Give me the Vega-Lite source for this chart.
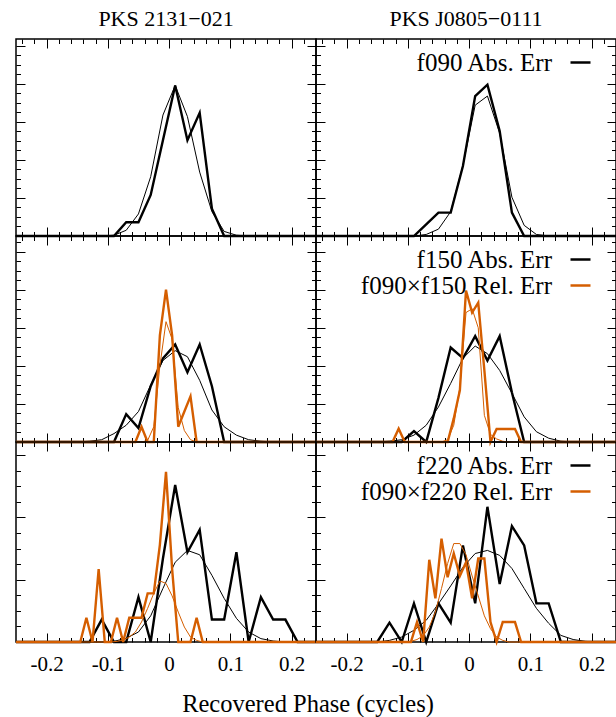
{
"$schema":"https://vega.github.io/schema/vega-lite/v6.json",
"padding":{"left":10,"top":6,"right":1,"bottom":4},
"config":{"view":{"stroke":"black","strokeWidth":1.5},"concat":{"spacing":0},
"axis":{"domain":false,"grid":false,"tickColor":"black","tickWidth":1,"minExtent":0,"labelFont":"Liberation Serif","labelFontSize":21,"labelColor":"black"},
"legend":{"orient":"none","legendX":252,"legendY":11,"title":null,"labelFont":"Liberation Serif","labelFontSize":25,"labelColor":"black","labelLimit":400,"symbolType":"stroke","symbolSize":400,"symbolStrokeWidth":2.5,"labelAlign":"right","labelOffset":-41,"padding":0,"rowPadding":0},
"title":{"font":"Liberation Serif","fontSize":22,"fontWeight":"normal","color":"black"},
"line":{"strokeJoin":"miter"}},
"title":{"text":"Recovered Phase (cycles)","orient":"bottom","anchor":"middle","offset":18,"dx":-8,"fontSize":24.5},
"datasets":{"d":[
{"p":"a","t":"abs","k":"h","s":"f090 Abs. Err","x":-0.25,"y":0},{"p":"a","t":"abs","k":"h","s":"f090 Abs. Err","x":-0.09,"y":0},{"p":"a","t":"abs","k":"h","s":"f090 Abs. Err","x":-0.07,"y":1.8},{"p":"a","t":"abs","k":"h","s":"f090 Abs. Err","x":-0.05,"y":1.8},{"p":"a","t":"abs","k":"h","s":"f090 Abs. Err","x":-0.03,"y":5.4},{"p":"a","t":"abs","k":"h","s":"f090 Abs. Err","x":-0.01,"y":12.6},{"p":"a","t":"abs","k":"h","s":"f090 Abs. Err","x":0.01,"y":19.8},{"p":"a","t":"abs","k":"h","s":"f090 Abs. Err","x":0.03,"y":12.6},{"p":"a","t":"abs","k":"h","s":"f090 Abs. Err","x":0.05,"y":16.2},{"p":"a","t":"abs","k":"h","s":"f090 Abs. Err","x":0.07,"y":3.6},{"p":"a","t":"abs","k":"h","s":"f090 Abs. Err","x":0.09,"y":0},{"p":"a","t":"abs","k":"h","s":"f090 Abs. Err","x":0.24,"y":0},
{"p":"a","t":"abs","k":"f","s":"f090 Abs. Err","x":-0.25,"y":0},{"p":"a","t":"abs","k":"f","s":"f090 Abs. Err","x":-0.11,"y":0},{"p":"a","t":"abs","k":"f","s":"f090 Abs. Err","x":-0.09,"y":0.1},{"p":"a","t":"abs","k":"f","s":"f090 Abs. Err","x":-0.07,"y":0.75},{"p":"a","t":"abs","k":"f","s":"f090 Abs. Err","x":-0.05,"y":2.9},{"p":"a","t":"abs","k":"f","s":"f090 Abs. Err","x":-0.03,"y":7.8},{"p":"a","t":"abs","k":"f","s":"f090 Abs. Err","x":-0.01,"y":15.9},{"p":"a","t":"abs","k":"f","s":"f090 Abs. Err","x":0.01,"y":19.8},{"p":"a","t":"abs","k":"f","s":"f090 Abs. Err","x":0.03,"y":15.7},{"p":"a","t":"abs","k":"f","s":"f090 Abs. Err","x":0.05,"y":8.4},{"p":"a","t":"abs","k":"f","s":"f090 Abs. Err","x":0.07,"y":3.2},{"p":"a","t":"abs","k":"f","s":"f090 Abs. Err","x":0.09,"y":0.6},{"p":"a","t":"abs","k":"f","s":"f090 Abs. Err","x":0.11,"y":0.1},{"p":"a","t":"abs","k":"f","s":"f090 Abs. Err","x":0.13,"y":0},{"p":"a","t":"abs","k":"f","s":"f090 Abs. Err","x":0.24,"y":0},
{"p":"b","t":"abs","k":"h","s":"f090 Abs. Err","x":-0.25,"y":0},{"p":"b","t":"abs","k":"h","s":"f090 Abs. Err","x":-0.09,"y":0},{"p":"b","t":"abs","k":"h","s":"f090 Abs. Err","x":-0.07,"y":1.53},{"p":"b","t":"abs","k":"h","s":"f090 Abs. Err","x":-0.05,"y":3.07},{"p":"b","t":"abs","k":"h","s":"f090 Abs. Err","x":-0.03,"y":3.07},{"p":"b","t":"abs","k":"h","s":"f090 Abs. Err","x":-0.01,"y":9.2},{"p":"b","t":"abs","k":"h","s":"f090 Abs. Err","x":0.01,"y":18.4},{"p":"b","t":"abs","k":"h","s":"f090 Abs. Err","x":0.03,"y":19.9},{"p":"b","t":"abs","k":"h","s":"f090 Abs. Err","x":0.05,"y":13.8},{"p":"b","t":"abs","k":"h","s":"f090 Abs. Err","x":0.07,"y":3.07},{"p":"b","t":"abs","k":"h","s":"f090 Abs. Err","x":0.09,"y":0},{"p":"b","t":"abs","k":"h","s":"f090 Abs. Err","x":0.24,"y":0},
{"p":"b","t":"abs","k":"f","s":"f090 Abs. Err","x":-0.25,"y":0},{"p":"b","t":"abs","k":"f","s":"f090 Abs. Err","x":-0.09,"y":0},{"p":"b","t":"abs","k":"f","s":"f090 Abs. Err","x":-0.07,"y":0.2},{"p":"b","t":"abs","k":"f","s":"f090 Abs. Err","x":-0.05,"y":0.9},{"p":"b","t":"abs","k":"f","s":"f090 Abs. Err","x":-0.03,"y":3.2},{"p":"b","t":"abs","k":"f","s":"f090 Abs. Err","x":-0.01,"y":9.3},{"p":"b","t":"abs","k":"f","s":"f090 Abs. Err","x":0.01,"y":17.2},{"p":"b","t":"abs","k":"f","s":"f090 Abs. Err","x":0.03,"y":18.4},{"p":"b","t":"abs","k":"f","s":"f090 Abs. Err","x":0.05,"y":13.5},{"p":"b","t":"abs","k":"f","s":"f090 Abs. Err","x":0.07,"y":5.1},{"p":"b","t":"abs","k":"f","s":"f090 Abs. Err","x":0.09,"y":1.4},{"p":"b","t":"abs","k":"f","s":"f090 Abs. Err","x":0.11,"y":0.2},{"p":"b","t":"abs","k":"f","s":"f090 Abs. Err","x":0.13,"y":0},{"p":"b","t":"abs","k":"f","s":"f090 Abs. Err","x":0.24,"y":0},
{"p":"c","t":"abs","k":"h","s":"f150 Abs. Err","x":-0.25,"y":0},{"p":"c","t":"abs","k":"h","s":"f150 Abs. Err","x":-0.09,"y":0},{"p":"c","t":"abs","k":"h","s":"f150 Abs. Err","x":-0.07,"y":3.66},{"p":"c","t":"abs","k":"h","s":"f150 Abs. Err","x":-0.05,"y":1.83},{"p":"c","t":"abs","k":"h","s":"f150 Abs. Err","x":-0.03,"y":7.32},{"p":"c","t":"abs","k":"h","s":"f150 Abs. Err","x":-0.01,"y":10.98},{"p":"c","t":"abs","k":"h","s":"f150 Abs. Err","x":0.01,"y":12.81},{"p":"c","t":"abs","k":"h","s":"f150 Abs. Err","x":0.03,"y":9.15},{"p":"c","t":"abs","k":"h","s":"f150 Abs. Err","x":0.05,"y":12.81},{"p":"c","t":"abs","k":"h","s":"f150 Abs. Err","x":0.07,"y":7.32},{"p":"c","t":"abs","k":"h","s":"f150 Abs. Err","x":0.09,"y":0},{"p":"c","t":"abs","k":"h","s":"f150 Abs. Err","x":0.24,"y":0},
{"p":"c","t":"abs","k":"f","s":"f150 Abs. Err","x":-0.25,"y":0},{"p":"c","t":"abs","k":"f","s":"f150 Abs. Err","x":-0.15,"y":0},{"p":"c","t":"abs","k":"f","s":"f150 Abs. Err","x":-0.13,"y":0.1},{"p":"c","t":"abs","k":"f","s":"f150 Abs. Err","x":-0.11,"y":0.3},{"p":"c","t":"abs","k":"f","s":"f150 Abs. Err","x":-0.09,"y":1.1},{"p":"c","t":"abs","k":"f","s":"f150 Abs. Err","x":-0.07,"y":2.2},{"p":"c","t":"abs","k":"f","s":"f150 Abs. Err","x":-0.05,"y":4.0},{"p":"c","t":"abs","k":"f","s":"f150 Abs. Err","x":-0.03,"y":7.5},{"p":"c","t":"abs","k":"f","s":"f150 Abs. Err","x":-0.01,"y":10.7},{"p":"c","t":"abs","k":"f","s":"f150 Abs. Err","x":0.01,"y":12.0},{"p":"c","t":"abs","k":"f","s":"f150 Abs. Err","x":0.03,"y":11.2},{"p":"c","t":"abs","k":"f","s":"f150 Abs. Err","x":0.05,"y":8.1},{"p":"c","t":"abs","k":"f","s":"f150 Abs. Err","x":0.07,"y":4.2},{"p":"c","t":"abs","k":"f","s":"f150 Abs. Err","x":0.09,"y":2.0},{"p":"c","t":"abs","k":"f","s":"f150 Abs. Err","x":0.11,"y":0.9},{"p":"c","t":"abs","k":"f","s":"f150 Abs. Err","x":0.13,"y":0.3},{"p":"c","t":"abs","k":"f","s":"f150 Abs. Err","x":0.15,"y":0.1},{"p":"c","t":"abs","k":"f","s":"f150 Abs. Err","x":0.17,"y":0},{"p":"c","t":"abs","k":"f","s":"f150 Abs. Err","x":0.24,"y":0},
{"p":"c","t":"rel","k":"h","s":"f090×f150 Rel. Err","x":-0.25,"y":0},{"p":"c","t":"rel","k":"h","s":"f090×f150 Rel. Err","x":-0.055,"y":0},{"p":"c","t":"rel","k":"h","s":"f090×f150 Rel. Err","x":-0.045,"y":2.0},{"p":"c","t":"rel","k":"h","s":"f090×f150 Rel. Err","x":-0.035,"y":0},{"p":"c","t":"rel","k":"h","s":"f090×f150 Rel. Err","x":-0.025,"y":0},{"p":"c","t":"rel","k":"h","s":"f090×f150 Rel. Err","x":-0.015,"y":14},{"p":"c","t":"rel","k":"h","s":"f090×f150 Rel. Err","x":-0.005,"y":20.0},{"p":"c","t":"rel","k":"h","s":"f090×f150 Rel. Err","x":0.005,"y":14},{"p":"c","t":"rel","k":"h","s":"f090×f150 Rel. Err","x":0.015,"y":2.0},{"p":"c","t":"rel","k":"h","s":"f090×f150 Rel. Err","x":0.025,"y":4.0},{"p":"c","t":"rel","k":"h","s":"f090×f150 Rel. Err","x":0.035,"y":6.0},{"p":"c","t":"rel","k":"h","s":"f090×f150 Rel. Err","x":0.045,"y":0},{"p":"c","t":"rel","k":"h","s":"f090×f150 Rel. Err","x":0.24,"y":0},
{"p":"c","t":"rel","k":"f","s":"f090×f150 Rel. Err","x":-0.25,"y":0},{"p":"c","t":"rel","k":"f","s":"f090×f150 Rel. Err","x":-0.045,"y":0},{"p":"c","t":"rel","k":"f","s":"f090×f150 Rel. Err","x":-0.035,"y":0.2},{"p":"c","t":"rel","k":"f","s":"f090×f150 Rel. Err","x":-0.025,"y":2.0},{"p":"c","t":"rel","k":"f","s":"f090×f150 Rel. Err","x":-0.015,"y":10},{"p":"c","t":"rel","k":"f","s":"f090×f150 Rel. Err","x":-0.005,"y":15.8},{"p":"c","t":"rel","k":"f","s":"f090×f150 Rel. Err","x":0.005,"y":13.5},{"p":"c","t":"rel","k":"f","s":"f090×f150 Rel. Err","x":0.015,"y":4.5},{"p":"c","t":"rel","k":"f","s":"f090×f150 Rel. Err","x":0.025,"y":1.5},{"p":"c","t":"rel","k":"f","s":"f090×f150 Rel. Err","x":0.035,"y":0.3},{"p":"c","t":"rel","k":"f","s":"f090×f150 Rel. Err","x":0.045,"y":0},{"p":"c","t":"rel","k":"f","s":"f090×f150 Rel. Err","x":0.24,"y":0},
{"p":"d","t":"abs","k":"h","s":"f150 Abs. Err","x":-0.25,"y":0},{"p":"d","t":"abs","k":"h","s":"f150 Abs. Err","x":-0.11,"y":0},{"p":"d","t":"abs","k":"h","s":"f150 Abs. Err","x":-0.09,"y":1.44},{"p":"d","t":"abs","k":"h","s":"f150 Abs. Err","x":-0.07,"y":0},{"p":"d","t":"abs","k":"h","s":"f150 Abs. Err","x":-0.05,"y":5.8},{"p":"d","t":"abs","k":"h","s":"f150 Abs. Err","x":-0.03,"y":12.4},{"p":"d","t":"abs","k":"h","s":"f150 Abs. Err","x":-0.01,"y":11.0},{"p":"d","t":"abs","k":"h","s":"f150 Abs. Err","x":0.01,"y":13.9},{"p":"d","t":"abs","k":"h","s":"f150 Abs. Err","x":0.03,"y":10.7},{"p":"d","t":"abs","k":"h","s":"f150 Abs. Err","x":0.05,"y":13.9},{"p":"d","t":"abs","k":"h","s":"f150 Abs. Err","x":0.07,"y":6.5},{"p":"d","t":"abs","k":"h","s":"f150 Abs. Err","x":0.09,"y":0},{"p":"d","t":"abs","k":"h","s":"f150 Abs. Err","x":0.24,"y":0},
{"p":"d","t":"abs","k":"f","s":"f150 Abs. Err","x":-0.25,"y":0},{"p":"d","t":"abs","k":"f","s":"f150 Abs. Err","x":-0.15,"y":0},{"p":"d","t":"abs","k":"f","s":"f150 Abs. Err","x":-0.13,"y":0.1},{"p":"d","t":"abs","k":"f","s":"f150 Abs. Err","x":-0.11,"y":0.3},{"p":"d","t":"abs","k":"f","s":"f150 Abs. Err","x":-0.09,"y":0.9},{"p":"d","t":"abs","k":"f","s":"f150 Abs. Err","x":-0.07,"y":2.2},{"p":"d","t":"abs","k":"f","s":"f150 Abs. Err","x":-0.05,"y":4.6},{"p":"d","t":"abs","k":"f","s":"f150 Abs. Err","x":-0.03,"y":7.7},{"p":"d","t":"abs","k":"f","s":"f150 Abs. Err","x":-0.01,"y":11.0},{"p":"d","t":"abs","k":"f","s":"f150 Abs. Err","x":0.01,"y":12.6},{"p":"d","t":"abs","k":"f","s":"f150 Abs. Err","x":0.03,"y":11.6},{"p":"d","t":"abs","k":"f","s":"f150 Abs. Err","x":0.05,"y":9.4},{"p":"d","t":"abs","k":"f","s":"f150 Abs. Err","x":0.07,"y":6.4},{"p":"d","t":"abs","k":"f","s":"f150 Abs. Err","x":0.09,"y":3.3},{"p":"d","t":"abs","k":"f","s":"f150 Abs. Err","x":0.11,"y":1.35},{"p":"d","t":"abs","k":"f","s":"f150 Abs. Err","x":0.13,"y":0.5},{"p":"d","t":"abs","k":"f","s":"f150 Abs. Err","x":0.15,"y":0.1},{"p":"d","t":"abs","k":"f","s":"f150 Abs. Err","x":0.17,"y":0},{"p":"d","t":"abs","k":"f","s":"f150 Abs. Err","x":0.24,"y":0},
{"p":"d","t":"rel","k":"h","s":"f090×f150 Rel. Err","x":-0.25,"y":0},{"p":"d","t":"rel","k":"h","s":"f090×f150 Rel. Err","x":-0.125,"y":0},{"p":"d","t":"rel","k":"h","s":"f090×f150 Rel. Err","x":-0.115,"y":1.75},{"p":"d","t":"rel","k":"h","s":"f090×f150 Rel. Err","x":-0.105,"y":0},{"p":"d","t":"rel","k":"h","s":"f090×f150 Rel. Err","x":-0.035,"y":0},{"p":"d","t":"rel","k":"h","s":"f090×f150 Rel. Err","x":-0.025,"y":3.1},{"p":"d","t":"rel","k":"h","s":"f090×f150 Rel. Err","x":-0.015,"y":6.8},{"p":"d","t":"rel","k":"h","s":"f090×f150 Rel. Err","x":-0.005,"y":19.9},{"p":"d","t":"rel","k":"h","s":"f090×f150 Rel. Err","x":0.005,"y":17.0},{"p":"d","t":"rel","k":"h","s":"f090×f150 Rel. Err","x":0.015,"y":18.3},{"p":"d","t":"rel","k":"h","s":"f090×f150 Rel. Err","x":0.025,"y":9.4},{"p":"d","t":"rel","k":"h","s":"f090×f150 Rel. Err","x":0.035,"y":0},{"p":"d","t":"rel","k":"h","s":"f090×f150 Rel. Err","x":0.045,"y":1.7},{"p":"d","t":"rel","k":"h","s":"f090×f150 Rel. Err","x":0.055,"y":1.7},{"p":"d","t":"rel","k":"h","s":"f090×f150 Rel. Err","x":0.065,"y":1.7},{"p":"d","t":"rel","k":"h","s":"f090×f150 Rel. Err","x":0.075,"y":1.7},{"p":"d","t":"rel","k":"h","s":"f090×f150 Rel. Err","x":0.085,"y":0},{"p":"d","t":"rel","k":"h","s":"f090×f150 Rel. Err","x":0.24,"y":0},
{"p":"d","t":"rel","k":"f","s":"f090×f150 Rel. Err","x":-0.25,"y":0},{"p":"d","t":"rel","k":"f","s":"f090×f150 Rel. Err","x":-0.045,"y":0},{"p":"d","t":"rel","k":"f","s":"f090×f150 Rel. Err","x":-0.035,"y":0.3},{"p":"d","t":"rel","k":"f","s":"f090×f150 Rel. Err","x":-0.025,"y":2.2},{"p":"d","t":"rel","k":"f","s":"f090×f150 Rel. Err","x":-0.015,"y":7.2},{"p":"d","t":"rel","k":"f","s":"f090×f150 Rel. Err","x":-0.005,"y":17.0},{"p":"d","t":"rel","k":"f","s":"f090×f150 Rel. Err","x":0.005,"y":17.5},{"p":"d","t":"rel","k":"f","s":"f090×f150 Rel. Err","x":0.015,"y":15.0},{"p":"d","t":"rel","k":"f","s":"f090×f150 Rel. Err","x":0.025,"y":3.5},{"p":"d","t":"rel","k":"f","s":"f090×f150 Rel. Err","x":0.035,"y":1.0},{"p":"d","t":"rel","k":"f","s":"f090×f150 Rel. Err","x":0.045,"y":0.4},{"p":"d","t":"rel","k":"f","s":"f090×f150 Rel. Err","x":0.055,"y":0.1},{"p":"d","t":"rel","k":"f","s":"f090×f150 Rel. Err","x":0.065,"y":0},{"p":"d","t":"rel","k":"f","s":"f090×f150 Rel. Err","x":0.24,"y":0},
{"p":"e","t":"abs","k":"h","s":"f220 Abs. Err","x":-0.25,"y":0},{"p":"e","t":"abs","k":"h","s":"f220 Abs. Err","x":-0.13,"y":0},{"p":"e","t":"abs","k":"h","s":"f220 Abs. Err","x":-0.11,"y":1.8},{"p":"e","t":"abs","k":"h","s":"f220 Abs. Err","x":-0.09,"y":0},{"p":"e","t":"abs","k":"h","s":"f220 Abs. Err","x":-0.07,"y":0},{"p":"e","t":"abs","k":"h","s":"f220 Abs. Err","x":-0.05,"y":3.6},{"p":"e","t":"abs","k":"h","s":"f220 Abs. Err","x":-0.03,"y":0},{"p":"e","t":"abs","k":"h","s":"f220 Abs. Err","x":-0.01,"y":6.7},{"p":"e","t":"abs","k":"h","s":"f220 Abs. Err","x":0.01,"y":12.6},{"p":"e","t":"abs","k":"h","s":"f220 Abs. Err","x":0.03,"y":7.2},{"p":"e","t":"abs","k":"h","s":"f220 Abs. Err","x":0.05,"y":9.0},{"p":"e","t":"abs","k":"h","s":"f220 Abs. Err","x":0.07,"y":1.8},{"p":"e","t":"abs","k":"h","s":"f220 Abs. Err","x":0.09,"y":1.8},{"p":"e","t":"abs","k":"h","s":"f220 Abs. Err","x":0.11,"y":7.2},{"p":"e","t":"abs","k":"h","s":"f220 Abs. Err","x":0.13,"y":0},{"p":"e","t":"abs","k":"h","s":"f220 Abs. Err","x":0.15,"y":3.6},{"p":"e","t":"abs","k":"h","s":"f220 Abs. Err","x":0.17,"y":1.8},{"p":"e","t":"abs","k":"h","s":"f220 Abs. Err","x":0.19,"y":1.8},{"p":"e","t":"abs","k":"h","s":"f220 Abs. Err","x":0.21,"y":0},{"p":"e","t":"abs","k":"h","s":"f220 Abs. Err","x":0.24,"y":0},
{"p":"e","t":"abs","k":"f","s":"f220 Abs. Err","x":-0.25,"y":0},{"p":"e","t":"abs","k":"f","s":"f220 Abs. Err","x":-0.11,"y":0},{"p":"e","t":"abs","k":"f","s":"f220 Abs. Err","x":-0.09,"y":0.05},{"p":"e","t":"abs","k":"f","s":"f220 Abs. Err","x":-0.07,"y":0.3},{"p":"e","t":"abs","k":"f","s":"f220 Abs. Err","x":-0.05,"y":0.8},{"p":"e","t":"abs","k":"f","s":"f220 Abs. Err","x":-0.03,"y":2.1},{"p":"e","t":"abs","k":"f","s":"f220 Abs. Err","x":-0.01,"y":4.3},{"p":"e","t":"abs","k":"f","s":"f220 Abs. Err","x":0.01,"y":6.4},{"p":"e","t":"abs","k":"f","s":"f220 Abs. Err","x":0.03,"y":7.35},{"p":"e","t":"abs","k":"f","s":"f220 Abs. Err","x":0.05,"y":7.0},{"p":"e","t":"abs","k":"f","s":"f220 Abs. Err","x":0.07,"y":5.35},{"p":"e","t":"abs","k":"f","s":"f220 Abs. Err","x":0.09,"y":3.5},{"p":"e","t":"abs","k":"f","s":"f220 Abs. Err","x":0.11,"y":1.9},{"p":"e","t":"abs","k":"f","s":"f220 Abs. Err","x":0.13,"y":0.8},{"p":"e","t":"abs","k":"f","s":"f220 Abs. Err","x":0.15,"y":0.27},{"p":"e","t":"abs","k":"f","s":"f220 Abs. Err","x":0.17,"y":0.08},{"p":"e","t":"abs","k":"f","s":"f220 Abs. Err","x":0.19,"y":0},{"p":"e","t":"abs","k":"f","s":"f220 Abs. Err","x":0.24,"y":0},
{"p":"e","t":"rel","k":"h","s":"f090×f220 Rel. Err","x":-0.25,"y":0},{"p":"e","t":"rel","k":"h","s":"f090×f220 Rel. Err","x":-0.145,"y":0},{"p":"e","t":"rel","k":"h","s":"f090×f220 Rel. Err","x":-0.135,"y":1.95},{"p":"e","t":"rel","k":"h","s":"f090×f220 Rel. Err","x":-0.125,"y":0},{"p":"e","t":"rel","k":"h","s":"f090×f220 Rel. Err","x":-0.115,"y":5.85},{"p":"e","t":"rel","k":"h","s":"f090×f220 Rel. Err","x":-0.105,"y":0},{"p":"e","t":"rel","k":"h","s":"f090×f220 Rel. Err","x":-0.095,"y":0},{"p":"e","t":"rel","k":"h","s":"f090×f220 Rel. Err","x":-0.085,"y":1.95},{"p":"e","t":"rel","k":"h","s":"f090×f220 Rel. Err","x":-0.075,"y":0},{"p":"e","t":"rel","k":"h","s":"f090×f220 Rel. Err","x":-0.065,"y":1.95},{"p":"e","t":"rel","k":"h","s":"f090×f220 Rel. Err","x":-0.055,"y":1.95},{"p":"e","t":"rel","k":"h","s":"f090×f220 Rel. Err","x":-0.045,"y":1.95},{"p":"e","t":"rel","k":"h","s":"f090×f220 Rel. Err","x":-0.035,"y":3.9},{"p":"e","t":"rel","k":"h","s":"f090×f220 Rel. Err","x":-0.025,"y":3.9},{"p":"e","t":"rel","k":"h","s":"f090×f220 Rel. Err","x":-0.015,"y":7.8},{"p":"e","t":"rel","k":"h","s":"f090×f220 Rel. Err","x":-0.005,"y":13.65},{"p":"e","t":"rel","k":"h","s":"f090×f220 Rel. Err","x":0.005,"y":5.85},{"p":"e","t":"rel","k":"h","s":"f090×f220 Rel. Err","x":0.015,"y":0},{"p":"e","t":"rel","k":"h","s":"f090×f220 Rel. Err","x":0.035,"y":0},{"p":"e","t":"rel","k":"h","s":"f090×f220 Rel. Err","x":0.045,"y":1.95},{"p":"e","t":"rel","k":"h","s":"f090×f220 Rel. Err","x":0.055,"y":0},{"p":"e","t":"rel","k":"h","s":"f090×f220 Rel. Err","x":0.24,"y":0},
{"p":"e","t":"rel","k":"f","s":"f090×f220 Rel. Err","x":-0.25,"y":0},{"p":"e","t":"rel","k":"f","s":"f090×f220 Rel. Err","x":-0.095,"y":0},{"p":"e","t":"rel","k":"f","s":"f090×f220 Rel. Err","x":-0.085,"y":0.05},{"p":"e","t":"rel","k":"f","s":"f090×f220 Rel. Err","x":-0.075,"y":0.15},{"p":"e","t":"rel","k":"f","s":"f090×f220 Rel. Err","x":-0.065,"y":0.4},{"p":"e","t":"rel","k":"f","s":"f090×f220 Rel. Err","x":-0.055,"y":0.8},{"p":"e","t":"rel","k":"f","s":"f090×f220 Rel. Err","x":-0.045,"y":1.6},{"p":"e","t":"rel","k":"f","s":"f090×f220 Rel. Err","x":-0.035,"y":2.7},{"p":"e","t":"rel","k":"f","s":"f090×f220 Rel. Err","x":-0.025,"y":3.9},{"p":"e","t":"rel","k":"f","s":"f090×f220 Rel. Err","x":-0.015,"y":4.9},{"p":"e","t":"rel","k":"f","s":"f090×f220 Rel. Err","x":-0.005,"y":4.7},{"p":"e","t":"rel","k":"f","s":"f090×f220 Rel. Err","x":0.005,"y":3.7},{"p":"e","t":"rel","k":"f","s":"f090×f220 Rel. Err","x":0.015,"y":2.4},{"p":"e","t":"rel","k":"f","s":"f090×f220 Rel. Err","x":0.025,"y":1.2},{"p":"e","t":"rel","k":"f","s":"f090×f220 Rel. Err","x":0.035,"y":0.4},{"p":"e","t":"rel","k":"f","s":"f090×f220 Rel. Err","x":0.045,"y":0.13},{"p":"e","t":"rel","k":"f","s":"f090×f220 Rel. Err","x":0.055,"y":0},{"p":"e","t":"rel","k":"f","s":"f090×f220 Rel. Err","x":0.24,"y":0},
{"p":"f","t":"abs","k":"h","s":"f220 Abs. Err","x":-0.25,"y":0},{"p":"f","t":"abs","k":"h","s":"f220 Abs. Err","x":-0.15,"y":0},{"p":"f","t":"abs","k":"h","s":"f220 Abs. Err","x":-0.13,"y":1.55},{"p":"f","t":"abs","k":"h","s":"f220 Abs. Err","x":-0.11,"y":0},{"p":"f","t":"abs","k":"h","s":"f220 Abs. Err","x":-0.09,"y":3.1},{"p":"f","t":"abs","k":"h","s":"f220 Abs. Err","x":-0.07,"y":0},{"p":"f","t":"abs","k":"h","s":"f220 Abs. Err","x":-0.05,"y":3.1},{"p":"f","t":"abs","k":"h","s":"f220 Abs. Err","x":-0.03,"y":1.55},{"p":"f","t":"abs","k":"h","s":"f220 Abs. Err","x":-0.01,"y":7.75},{"p":"f","t":"abs","k":"h","s":"f220 Abs. Err","x":0.01,"y":3.1},{"p":"f","t":"abs","k":"h","s":"f220 Abs. Err","x":0.03,"y":10.85},{"p":"f","t":"abs","k":"h","s":"f220 Abs. Err","x":0.05,"y":4.65},{"p":"f","t":"abs","k":"h","s":"f220 Abs. Err","x":0.07,"y":9.3},{"p":"f","t":"abs","k":"h","s":"f220 Abs. Err","x":0.09,"y":7.75},{"p":"f","t":"abs","k":"h","s":"f220 Abs. Err","x":0.11,"y":3.1},{"p":"f","t":"abs","k":"h","s":"f220 Abs. Err","x":0.13,"y":3.1},{"p":"f","t":"abs","k":"h","s":"f220 Abs. Err","x":0.15,"y":0},{"p":"f","t":"abs","k":"h","s":"f220 Abs. Err","x":0.24,"y":0},
{"p":"f","t":"abs","k":"f","s":"f220 Abs. Err","x":-0.25,"y":0},{"p":"f","t":"abs","k":"f","s":"f220 Abs. Err","x":-0.15,"y":0},{"p":"f","t":"abs","k":"f","s":"f220 Abs. Err","x":-0.13,"y":0.13},{"p":"f","t":"abs","k":"f","s":"f220 Abs. Err","x":-0.11,"y":0.4},{"p":"f","t":"abs","k":"f","s":"f220 Abs. Err","x":-0.09,"y":0.94},{"p":"f","t":"abs","k":"f","s":"f220 Abs. Err","x":-0.07,"y":1.74},{"p":"f","t":"abs","k":"f","s":"f220 Abs. Err","x":-0.05,"y":3.07},{"p":"f","t":"abs","k":"f","s":"f220 Abs. Err","x":-0.03,"y":4.5},{"p":"f","t":"abs","k":"f","s":"f220 Abs. Err","x":-0.01,"y":6.0},{"p":"f","t":"abs","k":"f","s":"f220 Abs. Err","x":0.01,"y":7.1},{"p":"f","t":"abs","k":"f","s":"f220 Abs. Err","x":0.03,"y":7.35},{"p":"f","t":"abs","k":"f","s":"f220 Abs. Err","x":0.05,"y":6.95},{"p":"f","t":"abs","k":"f","s":"f220 Abs. Err","x":0.07,"y":5.9},{"p":"f","t":"abs","k":"f","s":"f220 Abs. Err","x":0.09,"y":4.3},{"p":"f","t":"abs","k":"f","s":"f220 Abs. Err","x":0.11,"y":2.7},{"p":"f","t":"abs","k":"f","s":"f220 Abs. Err","x":0.13,"y":1.5},{"p":"f","t":"abs","k":"f","s":"f220 Abs. Err","x":0.15,"y":0.53},{"p":"f","t":"abs","k":"f","s":"f220 Abs. Err","x":0.17,"y":0.2},{"p":"f","t":"abs","k":"f","s":"f220 Abs. Err","x":0.19,"y":0.05},{"p":"f","t":"abs","k":"f","s":"f220 Abs. Err","x":0.21,"y":0},{"p":"f","t":"abs","k":"f","s":"f220 Abs. Err","x":0.24,"y":0},
{"p":"f","t":"rel","k":"h","s":"f090×f220 Rel. Err","x":-0.25,"y":0},{"p":"f","t":"rel","k":"h","s":"f090×f220 Rel. Err","x":-0.095,"y":0},{"p":"f","t":"rel","k":"h","s":"f090×f220 Rel. Err","x":-0.085,"y":1.6},{"p":"f","t":"rel","k":"h","s":"f090×f220 Rel. Err","x":-0.075,"y":0},{"p":"f","t":"rel","k":"h","s":"f090×f220 Rel. Err","x":-0.065,"y":6.6},{"p":"f","t":"rel","k":"h","s":"f090×f220 Rel. Err","x":-0.055,"y":3.5},{"p":"f","t":"rel","k":"h","s":"f090×f220 Rel. Err","x":-0.045,"y":8.3},{"p":"f","t":"rel","k":"h","s":"f090×f220 Rel. Err","x":-0.035,"y":5.2},{"p":"f","t":"rel","k":"h","s":"f090×f220 Rel. Err","x":-0.025,"y":7.1},{"p":"f","t":"rel","k":"h","s":"f090×f220 Rel. Err","x":-0.015,"y":5.3},{"p":"f","t":"rel","k":"h","s":"f090×f220 Rel. Err","x":-0.005,"y":6.4},{"p":"f","t":"rel","k":"h","s":"f090×f220 Rel. Err","x":0.005,"y":3.5},{"p":"f","t":"rel","k":"h","s":"f090×f220 Rel. Err","x":0.015,"y":6.7},{"p":"f","t":"rel","k":"h","s":"f090×f220 Rel. Err","x":0.025,"y":6.7},{"p":"f","t":"rel","k":"h","s":"f090×f220 Rel. Err","x":0.035,"y":1.6},{"p":"f","t":"rel","k":"h","s":"f090×f220 Rel. Err","x":0.045,"y":0},{"p":"f","t":"rel","k":"h","s":"f090×f220 Rel. Err","x":0.055,"y":1.6},{"p":"f","t":"rel","k":"h","s":"f090×f220 Rel. Err","x":0.065,"y":1.6},{"p":"f","t":"rel","k":"h","s":"f090×f220 Rel. Err","x":0.075,"y":1.6},{"p":"f","t":"rel","k":"h","s":"f090×f220 Rel. Err","x":0.085,"y":0},{"p":"f","t":"rel","k":"h","s":"f090×f220 Rel. Err","x":0.24,"y":0},
{"p":"f","t":"rel","k":"f","s":"f090×f220 Rel. Err","x":-0.25,"y":0},{"p":"f","t":"rel","k":"f","s":"f090×f220 Rel. Err","x":-0.105,"y":0},{"p":"f","t":"rel","k":"f","s":"f090×f220 Rel. Err","x":-0.095,"y":0.05},{"p":"f","t":"rel","k":"f","s":"f090×f220 Rel. Err","x":-0.085,"y":0.2},{"p":"f","t":"rel","k":"f","s":"f090×f220 Rel. Err","x":-0.075,"y":0.5},{"p":"f","t":"rel","k":"f","s":"f090×f220 Rel. Err","x":-0.065,"y":1.2},{"p":"f","t":"rel","k":"f","s":"f090×f220 Rel. Err","x":-0.055,"y":2.4},{"p":"f","t":"rel","k":"f","s":"f090×f220 Rel. Err","x":-0.045,"y":4.3},{"p":"f","t":"rel","k":"f","s":"f090×f220 Rel. Err","x":-0.035,"y":6.3},{"p":"f","t":"rel","k":"f","s":"f090×f220 Rel. Err","x":-0.025,"y":7.9},{"p":"f","t":"rel","k":"f","s":"f090×f220 Rel. Err","x":-0.015,"y":7.9},{"p":"f","t":"rel","k":"f","s":"f090×f220 Rel. Err","x":-0.005,"y":7.0},{"p":"f","t":"rel","k":"f","s":"f090×f220 Rel. Err","x":0.005,"y":5.3},{"p":"f","t":"rel","k":"f","s":"f090×f220 Rel. Err","x":0.015,"y":3.7},{"p":"f","t":"rel","k":"f","s":"f090×f220 Rel. Err","x":0.025,"y":2.1},{"p":"f","t":"rel","k":"f","s":"f090×f220 Rel. Err","x":0.035,"y":1.07},{"p":"f","t":"rel","k":"f","s":"f090×f220 Rel. Err","x":0.045,"y":0.4},{"p":"f","t":"rel","k":"f","s":"f090×f220 Rel. Err","x":0.055,"y":0.13},{"p":"f","t":"rel","k":"f","s":"f090×f220 Rel. Err","x":0.065,"y":0},{"p":"f","t":"rel","k":"f","s":"f090×f220 Rel. Err","x":0.24,"y":0}
]},
"data":{"name":"d"},
"columns":2,"spacing":0,"bounds":"flush",
"resolve":{"scale":{"color":"independent"}},
"concat":[
{"width":300,"height":197,"title":{"text":"PKS 2131−021","offset":8},
"resolve":{"axis":{"x":"independent","y":"independent"}},
"layer":[
{"transform":[{"filter":"datum.p=='a' && datum.t=='abs' && datum.k=='h'"}],"mark":{"type":"line","strokeWidth":2.4},
"encoding":{"x":{"field":"x","type":"quantitative","scale":{"domain":[-0.25,0.24],"nice":false,"zero":false},"axis":{"orient":"bottom","values":[-0.2,-0.1,0,0.1,0.2],"tickSize":-9,"labels":false,"title":null}},
"y":{"field":"y","type":"quantitative","scale":{"domain":[0,25.9],"nice":false},"axis":{"orient":"left","values":[0,5,10,15,20,25],"tickSize":-9,"labels":false,"title":null}},
"color":{"field":"s","type":"nominal","scale":{"domain":["f090 Abs. Err"],"range":["black"]},"legend":null}}},
{"transform":[{"filter":"datum.p=='a' && datum.t=='abs' && datum.k=='f'"}],"mark":{"type":"line","strokeWidth":1},
"encoding":{"x":{"field":"x","type":"quantitative","axis":{"orient":"top","values":[-0.2,-0.1,0,0.1,0.2],"tickSize":-9,"labels":false,"title":null}},
"y":{"field":"y","type":"quantitative","axis":{"orient":"right","values":[0,5,10,15,20,25],"tickSize":-9,"labels":false,"title":null}},
"color":{"field":"s","type":"nominal","legend":null}}},
{"transform":[{"filter":"datum.p=='a' && datum.t=='rel' && datum.k=='h'"}],"mark":{"type":"line","strokeWidth":2.4},
"encoding":{"x":{"field":"x","type":"quantitative","axis":{"orient":"bottom","values":[-0.24,-0.22,-0.2,-0.18,-0.16,-0.14,-0.12,-0.1,-0.08,-0.06,-0.04,-0.02,0,0.02,0.04,0.06,0.08,0.1,0.12,0.14,0.16,0.18,0.2,0.22],"tickSize":-4.5,"labels":false,"title":null}},
"y":{"field":"y","type":"quantitative","axis":{"orient":"left","values":[1.25,2.5,3.75,6.25,7.5,8.75,11.25,12.5,13.75,16.25,17.5,18.75,21.25,22.5,23.75],"tickSize":-4.5,"labels":false,"title":null}},
"color":{"field":"s","type":"nominal","legend":null}}},
{"transform":[{"filter":"datum.p=='a' && datum.t=='rel' && datum.k=='f'"}],"mark":{"type":"line","strokeWidth":1},
"encoding":{"x":{"field":"x","type":"quantitative","axis":{"orient":"top","values":[-0.24,-0.22,-0.2,-0.18,-0.16,-0.14,-0.12,-0.1,-0.08,-0.06,-0.04,-0.02,0,0.02,0.04,0.06,0.08,0.1,0.12,0.14,0.16,0.18,0.2,0.22],"tickSize":-4.5,"labels":false,"title":null}},
"y":{"field":"y","type":"quantitative","axis":{"orient":"right","values":[1.25,2.5,3.75,6.25,7.5,8.75,11.25,12.5,13.75,16.25,17.5,18.75,21.25,22.5,23.75],"tickSize":-4.5,"labels":false,"title":null}},
"color":{"field":"s","type":"nominal","legend":null}}}
]},
{"width":300,"height":197,"title":{"text":"PKS J0805−0111","offset":8},
"resolve":{"axis":{"x":"independent","y":"independent"}},
"layer":[
{"transform":[{"filter":"datum.p=='b' && datum.t=='abs' && datum.k=='h'"}],"mark":{"type":"line","strokeWidth":2.4},
"encoding":{"x":{"field":"x","type":"quantitative","scale":{"domain":[-0.25,0.24],"nice":false,"zero":false},"axis":{"orient":"bottom","values":[-0.2,-0.1,0,0.1,0.2],"tickSize":-9,"labels":false,"title":null}},
"y":{"field":"y","type":"quantitative","scale":{"domain":[0,25.9],"nice":false},"axis":{"orient":"left","values":[0,5,10,15,20,25],"tickSize":-9,"labels":false,"title":null}},
"color":{"field":"s","type":"nominal","scale":{"domain":["f090 Abs. Err"],"range":["black"]}}}},
{"transform":[{"filter":"datum.p=='b' && datum.t=='abs' && datum.k=='f'"}],"mark":{"type":"line","strokeWidth":1},
"encoding":{"x":{"field":"x","type":"quantitative","axis":{"orient":"top","values":[-0.2,-0.1,0,0.1,0.2],"tickSize":-9,"labels":false,"title":null}},
"y":{"field":"y","type":"quantitative","axis":{"orient":"right","values":[0,5,10,15,20,25],"tickSize":-9,"labels":false,"title":null}},
"color":{"field":"s","type":"nominal"}}},
{"transform":[{"filter":"datum.p=='b' && datum.t=='rel' && datum.k=='h'"}],"mark":{"type":"line","strokeWidth":2.4},
"encoding":{"x":{"field":"x","type":"quantitative","axis":{"orient":"bottom","values":[-0.24,-0.22,-0.2,-0.18,-0.16,-0.14,-0.12,-0.1,-0.08,-0.06,-0.04,-0.02,0,0.02,0.04,0.06,0.08,0.1,0.12,0.14,0.16,0.18,0.2,0.22],"tickSize":-4.5,"labels":false,"title":null}},
"y":{"field":"y","type":"quantitative","axis":{"orient":"left","values":[1.25,2.5,3.75,6.25,7.5,8.75,11.25,12.5,13.75,16.25,17.5,18.75,21.25,22.5,23.75],"tickSize":-4.5,"labels":false,"title":null}},
"color":{"field":"s","type":"nominal"}}},
{"transform":[{"filter":"datum.p=='b' && datum.t=='rel' && datum.k=='f'"}],"mark":{"type":"line","strokeWidth":1},
"encoding":{"x":{"field":"x","type":"quantitative","axis":{"orient":"top","values":[-0.24,-0.22,-0.2,-0.18,-0.16,-0.14,-0.12,-0.1,-0.08,-0.06,-0.04,-0.02,0,0.02,0.04,0.06,0.08,0.1,0.12,0.14,0.16,0.18,0.2,0.22],"tickSize":-4.5,"labels":false,"title":null}},
"y":{"field":"y","type":"quantitative","axis":{"orient":"right","values":[1.25,2.5,3.75,6.25,7.5,8.75,11.25,12.5,13.75,16.25,17.5,18.75,21.25,22.5,23.75],"tickSize":-4.5,"labels":false,"title":null}},
"color":{"field":"s","type":"nominal"}}}
]},
{"width":300,"height":206,
"resolve":{"axis":{"x":"independent","y":"independent"}},
"layer":[
{"transform":[{"filter":"datum.p=='c' && datum.t=='abs' && datum.k=='h'"}],"mark":{"type":"line","strokeWidth":2.4},
"encoding":{"x":{"field":"x","type":"quantitative","scale":{"domain":[-0.25,0.24],"nice":false,"zero":false},"axis":{"orient":"bottom","values":[-0.2,-0.1,0,0.1,0.2],"tickSize":-9,"labels":false,"title":null}},
"y":{"field":"y","type":"quantitative","scale":{"domain":[0,27.05],"nice":false},"axis":{"orient":"left","values":[0,5,10,15,20,25],"tickSize":-9,"labels":false,"title":null}},
"color":{"field":"s","type":"nominal","scale":{"domain":["f150 Abs. Err","f090×f150 Rel. Err"],"range":["black","#d55e00"]},"legend":null}}},
{"transform":[{"filter":"datum.p=='c' && datum.t=='abs' && datum.k=='f'"}],"mark":{"type":"line","strokeWidth":1},
"encoding":{"x":{"field":"x","type":"quantitative","axis":{"orient":"top","values":[-0.2,-0.1,0,0.1,0.2],"tickSize":-9,"labels":false,"title":null}},
"y":{"field":"y","type":"quantitative","axis":{"orient":"right","values":[0,5,10,15,20,25],"tickSize":-9,"labels":false,"title":null}},
"color":{"field":"s","type":"nominal","legend":null}}},
{"transform":[{"filter":"datum.p=='c' && datum.t=='rel' && datum.k=='h'"}],"mark":{"type":"line","strokeWidth":2.4},
"encoding":{"x":{"field":"x","type":"quantitative","axis":{"orient":"bottom","values":[-0.24,-0.22,-0.2,-0.18,-0.16,-0.14,-0.12,-0.1,-0.08,-0.06,-0.04,-0.02,0,0.02,0.04,0.06,0.08,0.1,0.12,0.14,0.16,0.18,0.2,0.22],"tickSize":-4.5,"labels":false,"title":null}},
"y":{"field":"y","type":"quantitative","axis":{"orient":"left","values":[1.25,2.5,3.75,6.25,7.5,8.75,11.25,12.5,13.75,16.25,17.5,18.75,21.25,22.5,23.75,26.25],"tickSize":-4.5,"labels":false,"title":null}},
"color":{"field":"s","type":"nominal","legend":null}}},
{"transform":[{"filter":"datum.p=='c' && datum.t=='rel' && datum.k=='f'"}],"mark":{"type":"line","strokeWidth":1},
"encoding":{"x":{"field":"x","type":"quantitative","axis":{"orient":"top","values":[-0.24,-0.22,-0.2,-0.18,-0.16,-0.14,-0.12,-0.1,-0.08,-0.06,-0.04,-0.02,0,0.02,0.04,0.06,0.08,0.1,0.12,0.14,0.16,0.18,0.2,0.22],"tickSize":-4.5,"labels":false,"title":null}},
"y":{"field":"y","type":"quantitative","axis":{"orient":"right","values":[1.25,2.5,3.75,6.25,7.5,8.75,11.25,12.5,13.75,16.25,17.5,18.75,21.25,22.5,23.75,26.25],"tickSize":-4.5,"labels":false,"title":null}},
"color":{"field":"s","type":"nominal","legend":null}}}
]},
{"width":300,"height":206,
"resolve":{"axis":{"x":"independent","y":"independent"}},
"layer":[
{"transform":[{"filter":"datum.p=='d' && datum.t=='abs' && datum.k=='h'"}],"mark":{"type":"line","strokeWidth":2.4},
"encoding":{"x":{"field":"x","type":"quantitative","scale":{"domain":[-0.25,0.24],"nice":false,"zero":false},"axis":{"orient":"bottom","values":[-0.2,-0.1,0,0.1,0.2],"tickSize":-9,"labels":false,"title":null}},
"y":{"field":"y","type":"quantitative","scale":{"domain":[0,27.05],"nice":false},"axis":{"orient":"left","values":[0,5,10,15,20,25],"tickSize":-9,"labels":false,"title":null}},
"color":{"field":"s","type":"nominal","scale":{"domain":["f150 Abs. Err","f090×f150 Rel. Err"],"range":["black","#d55e00"]}}}},
{"transform":[{"filter":"datum.p=='d' && datum.t=='abs' && datum.k=='f'"}],"mark":{"type":"line","strokeWidth":1},
"encoding":{"x":{"field":"x","type":"quantitative","axis":{"orient":"top","values":[-0.2,-0.1,0,0.1,0.2],"tickSize":-9,"labels":false,"title":null}},
"y":{"field":"y","type":"quantitative","axis":{"orient":"right","values":[0,5,10,15,20,25],"tickSize":-9,"labels":false,"title":null}},
"color":{"field":"s","type":"nominal"}}},
{"transform":[{"filter":"datum.p=='d' && datum.t=='rel' && datum.k=='h'"}],"mark":{"type":"line","strokeWidth":2.4},
"encoding":{"x":{"field":"x","type":"quantitative","axis":{"orient":"bottom","values":[-0.24,-0.22,-0.2,-0.18,-0.16,-0.14,-0.12,-0.1,-0.08,-0.06,-0.04,-0.02,0,0.02,0.04,0.06,0.08,0.1,0.12,0.14,0.16,0.18,0.2,0.22],"tickSize":-4.5,"labels":false,"title":null}},
"y":{"field":"y","type":"quantitative","axis":{"orient":"left","values":[1.25,2.5,3.75,6.25,7.5,8.75,11.25,12.5,13.75,16.25,17.5,18.75,21.25,22.5,23.75,26.25],"tickSize":-4.5,"labels":false,"title":null}},
"color":{"field":"s","type":"nominal"}}},
{"transform":[{"filter":"datum.p=='d' && datum.t=='rel' && datum.k=='f'"}],"mark":{"type":"line","strokeWidth":1},
"encoding":{"x":{"field":"x","type":"quantitative","axis":{"orient":"top","values":[-0.24,-0.22,-0.2,-0.18,-0.16,-0.14,-0.12,-0.1,-0.08,-0.06,-0.04,-0.02,0,0.02,0.04,0.06,0.08,0.1,0.12,0.14,0.16,0.18,0.2,0.22],"tickSize":-4.5,"labels":false,"title":null}},
"y":{"field":"y","type":"quantitative","axis":{"orient":"right","values":[1.25,2.5,3.75,6.25,7.5,8.75,11.25,12.5,13.75,16.25,17.5,18.75,21.25,22.5,23.75,26.25],"tickSize":-4.5,"labels":false,"title":null}},
"color":{"field":"s","type":"nominal"}}}
]},
{"width":300,"height":200,
"resolve":{"axis":{"x":"independent","y":"independent"}},
"layer":[
{"transform":[{"filter":"datum.p=='e' && datum.t=='abs' && datum.k=='h'"}],"mark":{"type":"line","strokeWidth":2.4},
"encoding":{"x":{"field":"x","type":"quantitative","scale":{"domain":[-0.25,0.24],"nice":false,"zero":false},"axis":{"orient":"bottom","values":[-0.2,-0.1,0,0.1,0.2],"tickSize":-9,"labels":true,"labelPadding":20,"labelExpr":"datum.value < 0 ? '-' + format(-datum.value, '~g') : format(datum.value, '~g')","title":null}},
"y":{"field":"y","type":"quantitative","scale":{"domain":[0,16.05],"nice":false},"axis":{"orient":"left","values":[0,5,10,15],"tickSize":-9,"labels":false,"title":null}},
"color":{"field":"s","type":"nominal","scale":{"domain":["f220 Abs. Err","f090×f220 Rel. Err"],"range":["black","#d55e00"]},"legend":null}}},
{"transform":[{"filter":"datum.p=='e' && datum.t=='abs' && datum.k=='f'"}],"mark":{"type":"line","strokeWidth":1},
"encoding":{"x":{"field":"x","type":"quantitative","axis":{"orient":"top","values":[-0.2,-0.1,0,0.1,0.2],"tickSize":-9,"labels":false,"title":null}},
"y":{"field":"y","type":"quantitative","axis":{"orient":"right","values":[0,5,10,15],"tickSize":-9,"labels":false,"title":null}},
"color":{"field":"s","type":"nominal","legend":null}}},
{"transform":[{"filter":"datum.p=='e' && datum.t=='rel' && datum.k=='h'"}],"mark":{"type":"line","strokeWidth":2.4},
"encoding":{"x":{"field":"x","type":"quantitative","axis":{"orient":"bottom","values":[-0.24,-0.22,-0.2,-0.18,-0.16,-0.14,-0.12,-0.1,-0.08,-0.06,-0.04,-0.02,0,0.02,0.04,0.06,0.08,0.1,0.12,0.14,0.16,0.18,0.2,0.22],"tickSize":-4.5,"labels":false,"title":null}},
"y":{"field":"y","type":"quantitative","axis":{"orient":"left","values":[1.25,2.5,3.75,6.25,7.5,8.75,11.25,12.5,13.75],"tickSize":-4.5,"labels":false,"title":null}},
"color":{"field":"s","type":"nominal","legend":null}}},
{"transform":[{"filter":"datum.p=='e' && datum.t=='rel' && datum.k=='f'"}],"mark":{"type":"line","strokeWidth":1},
"encoding":{"x":{"field":"x","type":"quantitative","axis":{"orient":"top","values":[-0.24,-0.22,-0.2,-0.18,-0.16,-0.14,-0.12,-0.1,-0.08,-0.06,-0.04,-0.02,0,0.02,0.04,0.06,0.08,0.1,0.12,0.14,0.16,0.18,0.2,0.22],"tickSize":-4.5,"labels":false,"title":null}},
"y":{"field":"y","type":"quantitative","axis":{"orient":"right","values":[1.25,2.5,3.75,6.25,7.5,8.75,11.25,12.5,13.75],"tickSize":-4.5,"labels":false,"title":null}},
"color":{"field":"s","type":"nominal","legend":null}}}
]},
{"width":300,"height":200,
"resolve":{"axis":{"x":"independent","y":"independent"}},
"layer":[
{"transform":[{"filter":"datum.p=='f' && datum.t=='abs' && datum.k=='h'"}],"mark":{"type":"line","strokeWidth":2.4},
"encoding":{"x":{"field":"x","type":"quantitative","scale":{"domain":[-0.25,0.24],"nice":false,"zero":false},"axis":{"orient":"bottom","values":[-0.2,-0.1,0,0.1,0.2],"tickSize":-9,"labels":true,"labelPadding":20,"labelExpr":"datum.value < 0 ? '-' + format(-datum.value, '~g') : format(datum.value, '~g')","title":null}},
"y":{"field":"y","type":"quantitative","scale":{"domain":[0,16.05],"nice":false},"axis":{"orient":"left","values":[0,5,10,15],"tickSize":-9,"labels":false,"title":null}},
"color":{"field":"s","type":"nominal","scale":{"domain":["f220 Abs. Err","f090×f220 Rel. Err"],"range":["black","#d55e00"]}}}},
{"transform":[{"filter":"datum.p=='f' && datum.t=='abs' && datum.k=='f'"}],"mark":{"type":"line","strokeWidth":1},
"encoding":{"x":{"field":"x","type":"quantitative","axis":{"orient":"top","values":[-0.2,-0.1,0,0.1,0.2],"tickSize":-9,"labels":false,"title":null}},
"y":{"field":"y","type":"quantitative","axis":{"orient":"right","values":[0,5,10,15],"tickSize":-9,"labels":false,"title":null}},
"color":{"field":"s","type":"nominal"}}},
{"transform":[{"filter":"datum.p=='f' && datum.t=='rel' && datum.k=='h'"}],"mark":{"type":"line","strokeWidth":2.4},
"encoding":{"x":{"field":"x","type":"quantitative","axis":{"orient":"bottom","values":[-0.24,-0.22,-0.2,-0.18,-0.16,-0.14,-0.12,-0.1,-0.08,-0.06,-0.04,-0.02,0,0.02,0.04,0.06,0.08,0.1,0.12,0.14,0.16,0.18,0.2,0.22],"tickSize":-4.5,"labels":false,"title":null}},
"y":{"field":"y","type":"quantitative","axis":{"orient":"left","values":[1.25,2.5,3.75,6.25,7.5,8.75,11.25,12.5,13.75],"tickSize":-4.5,"labels":false,"title":null}},
"color":{"field":"s","type":"nominal"}}},
{"transform":[{"filter":"datum.p=='f' && datum.t=='rel' && datum.k=='f'"}],"mark":{"type":"line","strokeWidth":1},
"encoding":{"x":{"field":"x","type":"quantitative","axis":{"orient":"top","values":[-0.24,-0.22,-0.2,-0.18,-0.16,-0.14,-0.12,-0.1,-0.08,-0.06,-0.04,-0.02,0,0.02,0.04,0.06,0.08,0.1,0.12,0.14,0.16,0.18,0.2,0.22],"tickSize":-4.5,"labels":false,"title":null}},
"y":{"field":"y","type":"quantitative","axis":{"orient":"right","values":[1.25,2.5,3.75,6.25,7.5,8.75,11.25,12.5,13.75],"tickSize":-4.5,"labels":false,"title":null}},
"color":{"field":"s","type":"nominal"}}}
]}
]}
